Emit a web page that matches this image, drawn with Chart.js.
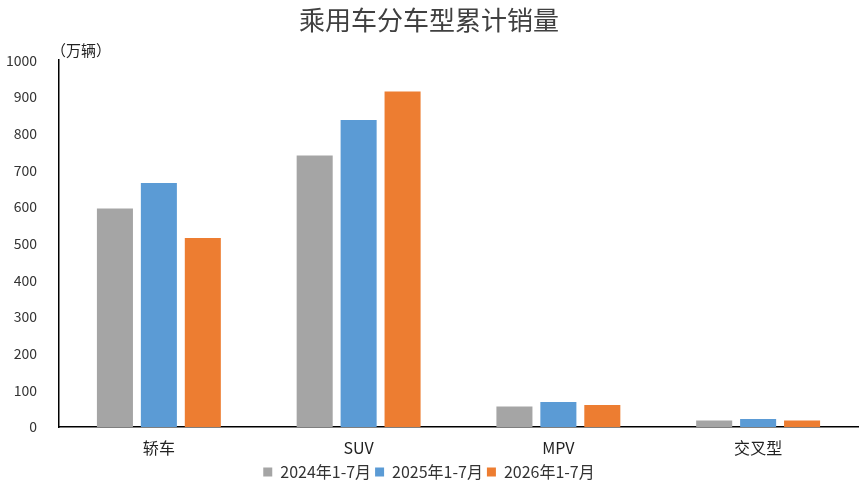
<!DOCTYPE html>
<html>
<head>
<meta charset="utf-8">
<script src="https://cdn.jsdelivr.net/npm/chart.js@4"></script>
<style>
  html, body { margin: 0; padding: 0; background: #fff; }
  #wrap { width: 865px; height: 490px; }
</style>
</head>
<body>
<div id="wrap"><canvas id="chart"></canvas></div>
<script>
// chart data
const categories = ["轿车", "SUV", "MPV", "交叉型"];
const seriesNames = ["2024年1-7月", "2025年1-7月", "2026年1-7月"];
const sales2024 = [596, 740, 56, 18];
const sales2025 = [665, 837, 68, 22];
const sales2026 = [515, 915, 60, 18];
const colors = ["#A5A5A5", "#5B9BD5", "#ED7D31"];

const font = "'Noto Sans CJK SC', 'DejaVu Sans', sans-serif";

// unit label above the y axis
const unitLabel = {
  id: "unitLabel",
  afterDraw(chart) {
    const ctx = chart.ctx;
    ctx.save();
    ctx.font = "15px " + font;
    ctx.fillStyle = "#222";
    ctx.textBaseline = "middle";
    ctx.fillText("（万辆）", chart.chartArea.left - 8, 50);
    ctx.restore();
  }
};

const ctx = document.getElementById("chart");
new Chart(ctx, {
  type: "bar",
  data: {
    labels: categories,
    datasets: [sales2024, sales2025, sales2026].map((d, i) => ({
      label: seriesNames[i],
      data: d,
      backgroundColor: colors[i],
      categoryPercentage: 0.66,
      barPercentage: 0.82
    }))
  },
  options: {
    responsive: true,
    maintainAspectRatio: false,
    animation: false,
    layout: { padding: { left: 0, right: 7, top: 0, bottom: 0 } },
    plugins: {
      title: {
        display: true,
        text: "乘用车分车型累计销量",
        color: "#404040",
        font: { size: 26, family: font, weight: "normal" },
        padding: { top: 5, bottom: 24 }
      },
      legend: {
        position: "bottom",
        labels: {
          boxWidth: 9,
          boxHeight: 9,
          padding: 4,
          color: "#333",
          font: { size: 16, family: font }
        }
      },
      tooltip: { enabled: false }
    },
    scales: {
      x: {
        grid: { display: false, drawTicks: false },
        border: { color: "#000", width: 1.5 },
        ticks: {
          color: "#222",
          padding: 11,
          font: { size: 16, family: font }
        },
        afterFit(scale) { scale.height = 33; }
      },
      y: {
        min: 0,
        max: 1000,
        grid: { display: false, drawTicks: false },
        border: { color: "#000", width: 1.5 },
        ticks: {
          stepSize: 100,
          color: "#333",
          padding: 22,
          font: { size: 14, family: font },
          callback: (v) => String(v)
        },
        afterFit(scale) { scale.width = 59; }
      }
    }
  },
  plugins: [unitLabel]
});
</script>
</body>
</html>
